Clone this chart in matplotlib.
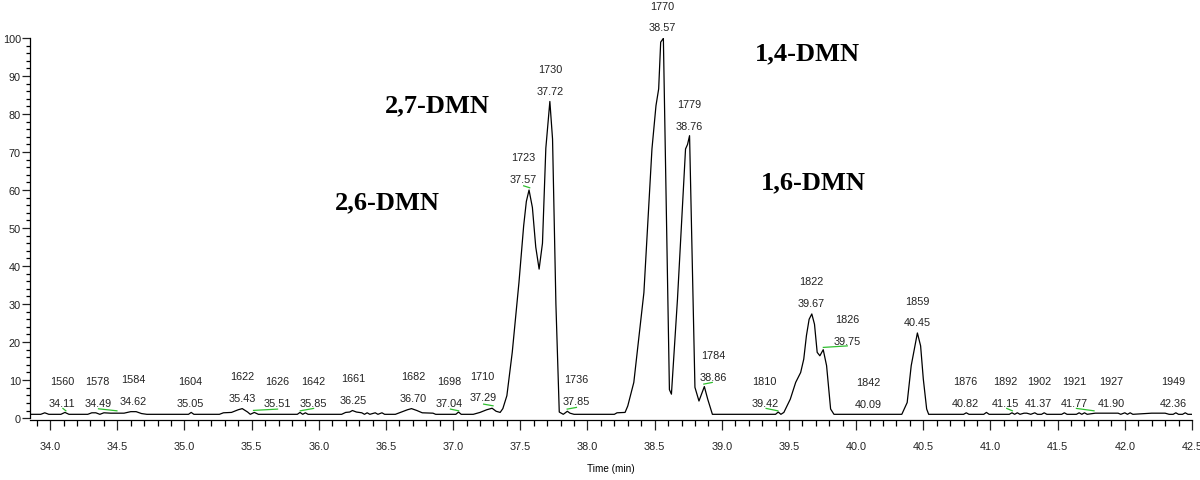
import matplotlib
matplotlib.use("Agg")
import matplotlib.pyplot as plt
from matplotlib.ticker import MultipleLocator

plt.rcParams['font.family'] = ['Liberation Sans', 'DejaVu Sans']

# chromatogram trace (time in min, relative abundance)
time = [33.85, 33.93, 33.96, 33.99, 34.08, 34.11, 34.14, 34.28, 34.31, 34.34,
        34.37, 34.40, 34.45, 34.55, 34.60, 34.64, 34.68, 34.72, 35.03, 35.05,
        35.07, 35.26, 35.29, 35.35, 35.40, 35.43, 35.47, 35.49, 35.52, 35.55,
        35.84, 35.86, 35.88, 35.90, 35.92, 36.17, 36.20, 36.23, 36.25, 36.28,
        36.32, 36.34, 36.36, 36.38, 36.42, 36.44, 36.47, 36.49, 36.57, 36.60,
        36.66, 36.69, 36.73, 36.77, 36.85, 36.87, 37.02, 37.04, 37.06, 37.15,
        37.20, 37.25, 37.29, 37.32, 37.35, 37.37, 37.40, 37.44, 37.49, 37.525,
        37.545, 37.565, 37.59, 37.615, 37.64, 37.665, 37.69, 37.72, 37.74, 37.765,
        37.79, 37.82, 37.85, 37.87, 37.90, 38.20, 38.22, 38.28, 38.30, 38.345,
        38.42, 38.48, 38.51, 38.53, 38.545, 38.565, 38.61, 38.625, 38.67, 38.73,
        38.745, 38.76, 38.80, 38.83, 38.87, 38.895, 38.93, 39.40, 39.42, 39.44,
        39.462, 39.51, 39.55, 39.587, 39.61, 39.63, 39.65, 39.67, 39.69, 39.71,
        39.73, 39.755, 39.78, 39.81, 39.835, 40.34, 40.38, 40.41, 40.456, 40.48,
        40.50, 40.525, 40.54, 40.80, 40.82, 40.84, 40.95, 40.97, 40.99, 41.14,
        41.16, 41.18, 41.20, 41.22, 41.25, 41.27, 41.30, 41.33, 41.35, 41.38,
        41.40, 41.42, 41.53, 41.55, 41.57, 41.64, 41.66, 41.68, 41.70, 41.72,
        41.78, 41.95, 41.97, 42.00, 42.02, 42.04, 42.06, 42.20, 42.30, 42.33,
        42.36, 42.38, 42.40, 42.43, 42.45, 42.47, 42.50]
signal = [1.0, 1.0, 1.4, 1.0, 1.0, 1.5, 1.0, 1.0, 1.4, 1.4,
          1.0, 1.4, 1.3, 1.3, 1.7, 1.7, 1.2, 1.0, 1.0, 1.5,
          1.0, 1.0, 1.4, 1.5, 2.2, 2.5, 1.6, 1.0, 1.5, 1.0,
          1.0, 1.5, 1.0, 1.4, 1.0, 1.0, 1.5, 1.6, 2.0, 1.6,
          1.4, 1.0, 1.4, 1.0, 1.4, 1.0, 1.4, 1.0, 1.0, 1.4,
          2.2, 2.5, 2.0, 1.4, 1.3, 1.0, 1.0, 1.6, 1.0, 1.0,
          1.5, 2.2, 2.6, 1.8, 1.5, 2.5, 5.9, 17.3, 35.7, 50.6,
          57.0, 60.0, 55.4, 45.0, 39.2, 46.0, 71.0, 83.3, 73.4, 30.0,
          1.6, 1.0, 1.8, 1.3, 1.0, 1.0, 1.4, 1.5, 3.2, 9.4,
          33.0, 70.8, 82.2, 86.6, 98.9, 99.9, 7.5, 6.3, 31.3, 70.8,
          72.0, 74.3, 8.1, 4.5, 8.3, 5.0, 1.0, 1.0, 1.6, 1.0,
          1.5, 5.0, 9.4, 12.0, 15.5, 21.7, 26.0, 27.4, 24.7, 17.3,
          16.4, 18.0, 13.8, 2.4, 1.0, 1.0, 4.1, 13.8, 22.4, 19.0,
          10.3, 2.4, 1.0, 1.0, 1.4, 1.0, 1.0, 1.5, 1.0, 1.0,
          1.4, 1.0, 1.4, 1.0, 1.3, 1.3, 1.0, 1.4, 1.0, 1.0,
          1.4, 1.0, 1.0, 1.4, 1.0, 1.0, 1.4, 1.0, 1.4, 1.0,
          1.3, 1.3, 1.0, 1.4, 1.0, 1.4, 1.0, 1.3, 1.3, 1.0,
          1.0, 1.4, 1.0, 1.0, 1.4, 1.0, 1.0]

peak_ids = ["1560", "1578", "1584", "1604", "1622", "1626", "1642", "1661", "1682", "1698",
            "1710", "1723", "1730", "1736", "1770", "1779", "1784", "1810", "1822", "1826",
            "1842", "1859", "1876", "1892", "1902", "1921", "1927", "1949"]
peak_rts = ["34.11", "34.49", "34.62", "35.05", "35.43", "35.51", "35.85", "36.25", "36.70", "37.04",
            "37.29", "37.57", "37.72", "37.85", "38.57", "38.76", "38.86", "39.42", "39.67", "39.75",
            "40.09", "40.45", "40.82", "41.15", "41.37", "41.77", "41.90", "42.36"]

# integration markers (green)
mark_t0 = [34.095, 34.36, 35.514, 35.862, 36.98, 37.227, 37.525, 37.849, 38.866, 39.33, 39.756, 41.121, 41.64]
mark_t1 = [34.117, 34.497, 35.693, 35.961, 37.041, 37.297, 37.57, 37.918, 38.929, 39.417, 39.934, 41.163, 41.771]
mark_y0 = [2.55, 2.45, 2.03, 1.92, 2.37, 3.68, 61.1, 2.37, 8.95, 2.55, 18.6, 2.55, 2.55]
mark_y1 = [1.92, 1.92, 2.37, 2.55, 1.92, 3.24, 60.6, 2.82, 9.39, 1.92, 19.0, 1.92, 1.92]

compounds = ["2,6-DMN", "2,7-DMN", "1,4-DMN", "1,6-DMN"]

# label anchor positions (layout)
lab_x = [34.087, 34.355, 34.62, 35.043, 35.432, 35.693, 35.96, 36.255, 36.70, 36.97,
         37.22, 37.52, 37.72, 37.918, 38.556, 38.755, 38.933, 39.32, 39.668, 39.934,
         40.09, 40.455, 40.816, 41.113, 41.36, 41.627, 41.896, 42.36]
lab_y = [3.95, 3.95, 4.55, 3.95, 5.26, 3.95, 3.95, 4.74, 5.26, 3.95,
         5.45, 62.9, 86.1, 4.55, 102.8, 76.9, 10.9, 3.95, 30.4, 20.3,
         3.8, 25.2, 3.95, 3.95, 3.95, 3.95, 3.95, 3.95]
comp_x = [36.51, 36.886, 39.639, 39.68]
comp_y = [56.8, 82.4, 96.05, 62.2]

fig = plt.figure(figsize=(12, 4.81), dpi=100)
ax = fig.add_axes([0.025, 0.1247, 0.9683, 0.7943])

ax.plot(time, signal, color='black', lw=0.9)
for t0, t1, y0, y1 in zip(mark_t0, mark_t1, mark_y0, mark_y1):
    ax.plot([t0, t1], [y0, y1], color='#2fbf2f', lw=0.9)

for x, y, pid, rt in zip(lab_x, lab_y, peak_ids, peak_rts):
    ax.annotate(rt, (x, y), ha='center', va='center', fontsize=7.8,
                color='#222222', annotation_clip=False)
    ax.annotate(pid, (x, y), xytext=(0, 15.6), textcoords='offset points',
                ha='center', va='center', fontsize=7.8, color='#222222',
                annotation_clip=False)

for x, y, name in zip(comp_x, comp_y, compounds):
    ax.text(x, y, name, ha='center', va='center', fontsize=19, fontweight='bold',
            family=['Liberation Serif', 'DejaVu Serif'])

ax.set_xlim(33.85, 42.5)
ax.set_ylim(-0.5, 100)
ax.xaxis.set_major_locator(MultipleLocator(0.5))
ax.xaxis.set_minor_locator(MultipleLocator(0.1))
ax.yaxis.set_major_locator(MultipleLocator(10))
ax.yaxis.set_minor_locator(MultipleLocator(2))
ax.xaxis.set_major_formatter(matplotlib.ticker.FormatStrFormatter('%.1f'))

for s in ['top', 'right']:
    ax.spines[s].set_visible(False)
ax.spines['left'].set_bounds(0, 100)
ax.spines['left'].set_linewidth(0.9)
ax.spines['bottom'].set_linewidth(0.9)

ax.tick_params(axis='x', which='major', length=7.5, width=0.9, pad=7.5, labelsize=7.8, colors='#222222')
ax.tick_params(axis='x', which='minor', length=4.5, width=0.9)
ax.tick_params(axis='y', which='major', length=6, width=0.9, pad=0.5, labelsize=7.8, colors='#222222')
ax.tick_params(axis='y', which='minor', length=3, width=0.9)

ax.set_xlabel('Time (min)', fontsize=7.2, labelpad=9)

fig.savefig('out.png', dpi=100)
